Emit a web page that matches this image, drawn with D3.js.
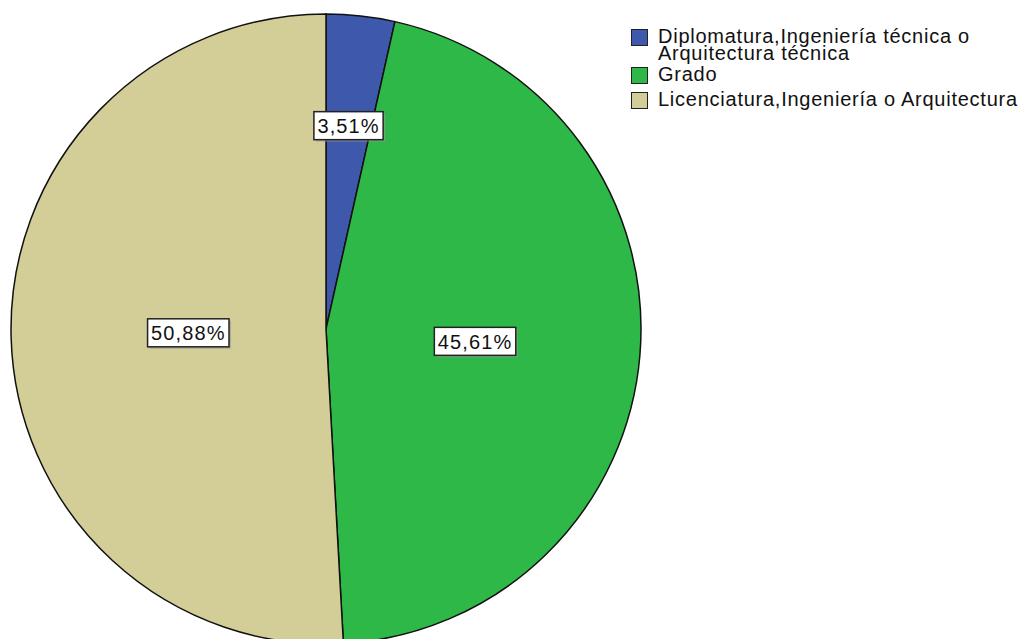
<!DOCTYPE html>
<html>
<head>
<meta charset="utf-8">
<script src="https://cdn.jsdelivr.net/npm/d3@7"></script>
<style>
  body { margin: 0; background: #fff; }
  svg text { font-family: "Liberation Sans", Arial, sans-serif; }
</style>
</head>
<body>
<script>
// chart values
var categories = ["Diplomatura,Ingeniería técnica o Arquitectura técnica", "Grado", "Licenciatura,Ingeniería o Arquitectura"];
var legendLines = [["Diplomatura,Ingeniería técnica o", "Arquitectura técnica"], ["Grado"], ["Licenciatura,Ingeniería o Arquitectura"]];
var percents = [3.51, 45.61, 50.88];
var labels = ["3,51%", "45,61%", "50,88%"];
var colors = ["#3E58AC", "#2EB848", "#D3CE97"];

(function(){
  var settings = {
    width: 1021,
    height: 639,
    cx: 326,
    cy: 329,
    radius: 315,
    labelFont: 20,
    legendX: 631,
    legendFont: 20
  };

  var svg = d3.select("body").append("svg")
      .attr("width", settings.width)
      .attr("height", settings.height);

  var data = percents.map(function(p, i){ return {name: categories[i], value: p, label: labels[i], color: colors[i]}; });

  var pie = d3.pie().sort(null).value(function(d){ return d.value; });
  var arc = d3.arc().innerRadius(0).outerRadius(settings.radius);
  var arcs = pie(data);

  var g = svg.append("g").attr("transform", "translate(" + settings.cx + "," + settings.cy + ")");

  g.selectAll("path.slice").data(arcs).enter()
    .append("path")
    .attr("class", "slice")
    .attr("d", arc)
    .style("fill", function(d){ return d.data.color; })
    .style("stroke", "#111")
    .style("stroke-width", 1.5);

  // labels sit near the centroid of each sector (pulled a little toward mid radius)
  function labelPos(d) {
    var half = (d.endAngle - d.startAngle) / 2;
    var mid = d.startAngle + half;
    var c = 2 * settings.radius * Math.sin(half) / (3 * half);
    var dist = 0.854 * c + 25.6;
    return [dist * Math.sin(mid), -dist * Math.cos(mid)];
  }

  var lab = g.selectAll("g.label").data(arcs).enter()
    .append("g")
    .attr("class", "label")
    .attr("transform", function(d){ var c = labelPos(d); return "translate(" + c[0] + "," + c[1] + ")"; });

  var texts = lab.append("text")
    .attr("text-anchor", "middle")
    .attr("dy", "0.36em")
    .style("font-size", settings.labelFont + "px")
    .style("letter-spacing", "1.1px")
    .style("fill", "#111")
    .text(function(d){ return d.data.label; });

  texts.each(function(){
    var bb = this.getBBox();
    var w = bb.width + 7, h = 28;
    var p = d3.select(this.parentNode);
    p.insert("rect", "text")
      .attr("x", -w/2 + 2).attr("y", -h/2 + 2)
      .attr("width", w).attr("height", h)
      .style("fill", "#999").style("opacity", 0.6);
    p.insert("rect", "text")
      .attr("x", -w/2).attr("y", -h/2)
      .attr("width", w).attr("height", h)
      .style("fill", "#fff")
      .style("stroke", "#222")
      .style("stroke-width", 1.5);
  });

  // legend
  var legendTop = [29, 67, 92];
  var lineGap = 17;
  var legend = svg.selectAll("g.legend").data(data).enter()
    .append("g")
    .attr("class", "legend")
    .attr("transform", function(d, i){ return "translate(" + settings.legendX + "," + legendTop[i] + ")"; });

  legend.append("rect")
    .attr("x", 0.5).attr("y", 0.5)
    .attr("width", 16).attr("height", 16)
    .style("fill", function(d){ return d.color; })
    .style("stroke", "#222")
    .style("stroke-width", 1);

  legend.each(function(d, i){
    var t = d3.select(this).append("text")
      .attr("x", 27)
      .attr("y", 14)
      .style("font-size", settings.legendFont + "px")
      .style("letter-spacing", "0.75px")
      .style("fill", "#111");
    legendLines[i].forEach(function(line, j){
      t.append("tspan").attr("x", 27).attr("dy", j === 0 ? 0 : lineGap).text(line);
    });
  });
})();
</script>
</body>
</html>
